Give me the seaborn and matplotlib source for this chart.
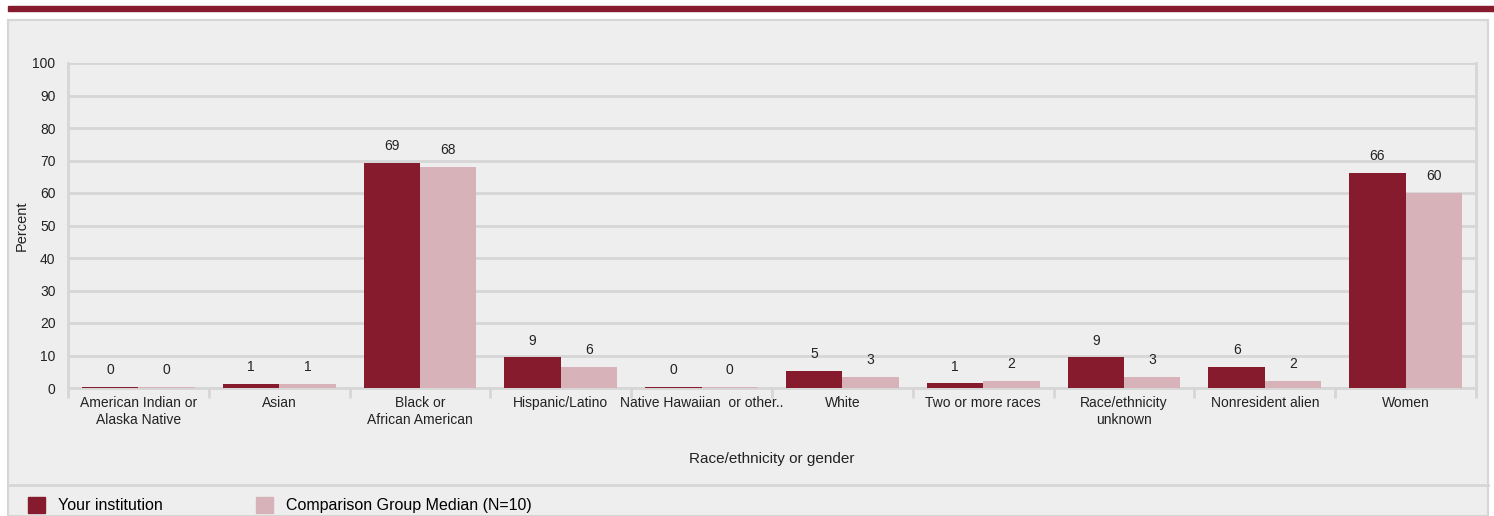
import matplotlib
matplotlib.use("Agg")
import matplotlib.pyplot as plt
import seaborn as sns
import pandas as pd
from matplotlib.patches import Rectangle
from matplotlib.lines import Line2D

# Categories and series values (percent)
categories = [
    "American Indian or\nAlaska Native",
    "Asian",
    "Black or\nAfrican American",
    "Hispanic/Latino",
    "Native Hawaiian  or other..",
    "White",
    "Two or more races",
    "Race/ethnicity\nunknown",
    "Nonresident alien",
    "Women",
]
your_institution = [0.4, 1.3, 69.2, 9.4, 0.4, 5.2, 1.4, 9.4, 6.4, 66.2]
comparison_median = [0.4, 1.3, 68.0, 6.4, 0.4, 3.4, 2.2, 3.4, 2.2, 60.0]
series_names = ["Your institution", "Comparison Group Median (N=10)"]
y_ticks = list(range(0, 101, 10))

RED = "#861b2d"
PINK = "#d7b2b8"
GRID = "#d6d6d6"
PANEL = "#eeeeee"


def build_frame():
    rows = []
    for cat, a, b in zip(categories, your_institution, comparison_median):
        rows.append({"category": cat, "series": series_names[0], "value": a})
        rows.append({"category": cat, "series": series_names[1], "value": b})
    return pd.DataFrame(rows)


def main():
    plt.rcParams["font.family"] = ["Liberation Sans", "DejaVu Sans"]
    df = build_frame()

    fig = plt.figure(figsize=(14.94, 5.16), dpi=100)
    W, H = 1494, 516

    # top band and gray panel (behind the axes)
    fig.patches.append(Rectangle((8 / W, 1 - 11 / H), (W - 8) / W, 5 / H,
                                 transform=fig.transFigure, color=RED, zorder=-5))
    fig.patches.append(Rectangle((8 / W, 0), (1488 - 8) / W, 1 - 20 / H,
                                 transform=fig.transFigure, facecolor=PANEL,
                                 edgecolor=GRID, linewidth=1.5, zorder=-5))
    fig.lines.append(Line2D([8 / W, 1488 / W], [1 - 485 / H] * 2,
                            transform=fig.transFigure, color=GRID, linewidth=2,
                            zorder=-4))

    ax = fig.add_axes([68 / W, 1 - 388 / H, (1476 - 68) / W, (388 - 63) / H])
    ax.set_zorder(2)
    ax.set_facecolor(PANEL)

    sns.barplot(data=df, x="category", y="value", hue="series",
                palette=[RED, PINK], width=0.8, saturation=1, ax=ax,
                legend=False, zorder=3)

    for cont, vals in zip(ax.containers, [your_institution, comparison_median]):
        ax.bar_label(cont, labels=[f"{v:.0f}" for v in vals], padding=7,
                     fontsize=10, color="#222222")

    ax.set_ylim(0, 100)
    ax.set_xlim(-0.5, len(categories) - 0.5)
    ax.set_yticks(y_ticks)
    ax.grid(axis="y", color=GRID, linewidth=2, zorder=0)
    ax.set_axisbelow(True)
    for side in ["left", "right", "bottom"]:
        ax.spines[side].set_color(GRID)
        ax.spines[side].set_linewidth(2)
    ax.spines["top"].set_visible(False)

    ax.tick_params(axis="y", length=0, pad=9, labelsize=10, labelcolor="#222222")
    ax.tick_params(axis="x", which="major", length=0, pad=6, labelsize=10,
                   labelcolor="#222222")
    ax.set_xticks([i - 0.5 for i in range(len(categories) + 1)], minor=True)
    ax.tick_params(axis="x", which="minor", length=7, width=2, color=GRID)

    ax.set_ylabel("Percent", fontsize=10.5, color="#222222")
    ax.yaxis.set_label_coords(-39 / (1476 - 68), 0.5)
    ax.set_xlabel("Race/ethnicity or gender", fontsize=11, color="#222222")
    ax.xaxis.set_label_coords(0.5, -64 / (388 - 63))

    handles = [Rectangle((0, 0), 1, 1, color=RED), Rectangle((0, 0), 1, 1, color=PINK)]
    fig.legend(handles, series_names, loc="center left",
               bbox_to_anchor=(14 / W, 1 - 505 / H), ncol=2, frameon=False,
               fontsize=11.5, handlelength=1.05, handleheight=1.25,
               handletextpad=0.8, columnspacing=5.85)

    fig.savefig("out.png", dpi=100, facecolor="white")


if __name__ == "__main__":
    main()
